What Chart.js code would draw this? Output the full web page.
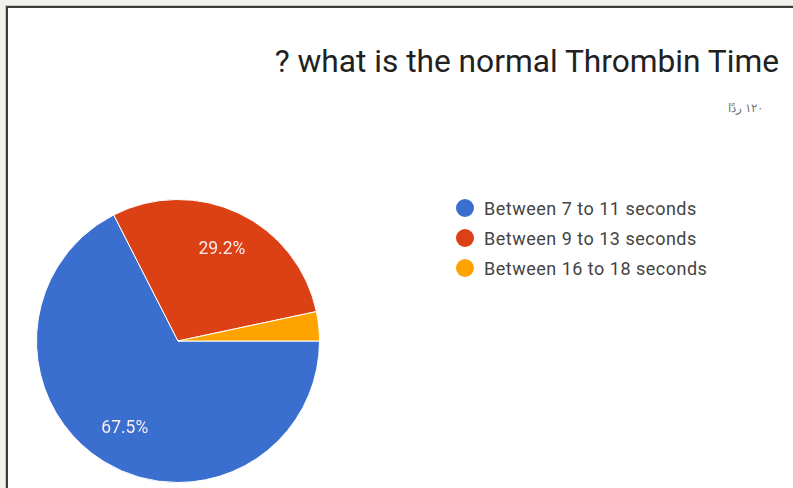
<!DOCTYPE html>
<html>
<head>
<meta charset="utf-8">
<script src="https://cdn.jsdelivr.net/npm/chart.js@4"></script>
<style>
  html, body { margin: 0; padding: 0; }
  body { width: 793px; height: 488px; background: #f2f2ec; position: relative; overflow: hidden; font-family: Roboto, sans-serif; }
  .frame { position: absolute; left: 6px; top: 6px; right: -20px; bottom: -20px; background: #fff;
    border-left: 2px solid #3c3c3c; border-top: 2px solid #3c3c3c; box-shadow: -1px -1px 0 #c8c8c0; }
  #chart-canvas { position: absolute; left: 0; top: 0; }
  .title { position: absolute; right: 14px; top: 43px; font-size: 31.7px; color: #212121; white-space: nowrap; }
  .subtitle { position: absolute; right: 30px; top: 101px; font-size: 12px; color: #757575; white-space: nowrap; direction: rtl; }
  #legend { position: absolute; left: 456px; top: 197px; list-style: none; margin: 0; padding: 0; }
  #legend li { display: flex; align-items: center; height: 22px; margin-bottom: 8px; font-size: 18px; letter-spacing: 0.5px; color: #444; white-space: nowrap; }
  #legend .dot { width: 18px; height: 18px; border-radius: 50%; margin-right: 10px; }
</style>
</head>
<body>
<div class="frame"></div>
<div class="title">? what is the normal Thrombin Time</div>
<div class="subtitle" dir="rtl">۱۲۰ ردًا</div>
<ul id="legend"></ul>
<canvas id="chart-canvas" width="793" height="488"></canvas>
<script>
const categories = ['Between 7 to 11 seconds', 'Between 9 to 13 seconds', 'Between 16 to 18 seconds'];
const responses = [81, 35, 4];
const sliceColors = ['#3a6fd0', '#dc4116', '#ffa300'];

const canvas = document.getElementById('chart-canvas');
const legendList = document.getElementById('legend');

// percent labels inside the bigger slices
const sliceLabels = {
  id: 'sliceLabels',
  afterDatasetsDraw(chart) {
    const ctx = chart.ctx;
    const meta = chart.getDatasetMeta(0);
    const data = chart.data.datasets[0].data;
    const total = data.reduce((acc, v) => acc + v, 0);
    ctx.save();
    ctx.font = '17.5px Roboto';
    ctx.fillStyle = '#f6eeee';
    ctx.textAlign = 'center';
    ctx.textBaseline = 'middle';
    meta.data.forEach((arc, i) => {
      const pct = data[i] / total * 100;
      if (pct < 5) return;
      const mid = (arc.startAngle + arc.endAngle) / 2;
      const r = arc.outerRadius * 0.72;
      ctx.fillText(pct.toFixed(1) + '%', arc.x + Math.cos(mid) * r, arc.y + Math.sin(mid) * r + 1);
    });
    ctx.restore();
  }
};

// html legend from the chart's own labels
const htmlLegend = {
  id: 'htmlLegend',
  afterUpdate(chart) {
    legendList.innerHTML = '';
    const items = chart.options.plugins.legend.labels.generateLabels(chart);
    items.forEach(item => {
      const li = document.createElement('li');
      const dot = document.createElement('span');
      dot.className = 'dot';
      dot.style.background = item.fillStyle;
      li.appendChild(dot);
      li.appendChild(document.createTextNode(item.text));
      legendList.appendChild(li);
    });
  }
};

new Chart(canvas, {
  type: 'pie',
  data: {
    labels: categories,
    datasets: [{
      data: responses,
      backgroundColor: sliceColors,
      borderColor: '#fff',
      borderWidth: 1,
    }],
  },
  options: {
    responsive: false,
    animation: false,
    rotation: 90,
    layout: { padding: { left: 36, right: 473, top: 199, bottom: 5 } },
    plugins: {
      legend: { display: false },
      tooltip: { enabled: false },
    },
  },
  plugins: [sliceLabels, htmlLegend],
});
</script>
</body>
</html>
